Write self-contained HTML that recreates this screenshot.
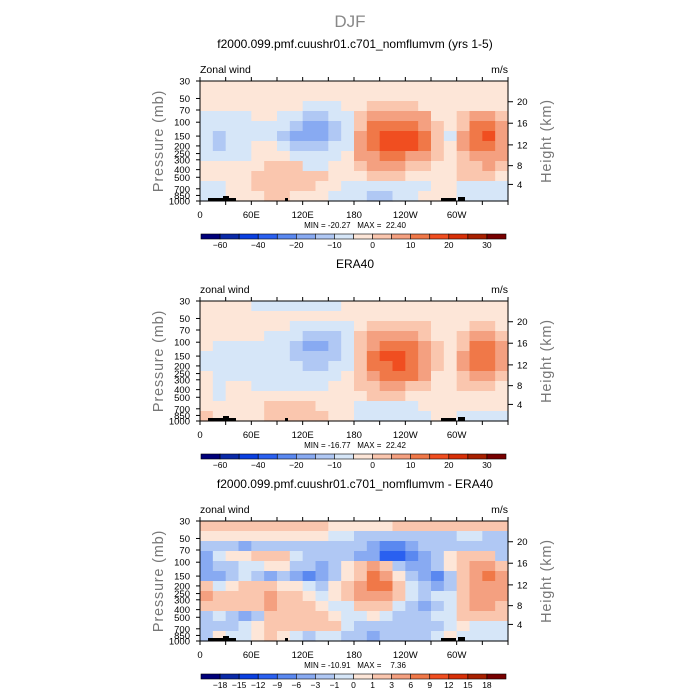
<!DOCTYPE html>
<html><head><meta charset="utf-8"><style>
body{margin:0;background:#fff;}
svg{display:block;font-family:"Liberation Sans",sans-serif;}
text{white-space:pre;}
</style></head><body>
<svg id="chart" width="700" height="700" viewBox="0 0 700 700">
<text x="350" y="27" text-anchor="middle" font-size="17" fill="#888">DJF</text>
</svg>
<script>
// ---- data ----
const lonLabels = ["0","60E","120E","180","120W","60W"];
const presLabels = [30,50,70,100,150,200,250,300,400,500,700,850,1000];
const heightLabels = [4,8,12,16,20];
const heightPres = [616,356,194,103,55];
const panelTitles = ["f2000.099.pmf.cuushr01.c701_nomflumvm (yrs 1-5)","ERA40","f2000.099.pmf.cuushr01.c701_nomflumvm - ERA40"];
const subTitles = ["Zonal wind","zonal wind","zonal wind"];
const minMax = ["MIN = -20.27   MAX =  22.40","MIN = -16.77   MAX =  22.42","MIN = -10.91   MAX =    7.36"];
const levelsAbs = [-60,-50,-40,-30,-20,-15,-10,-5,0,5,10,15,20,25,30];
const levelsDiff = [-18,-15,-12,-9,-6,-3,-1,0,1,3,6,9,12,15,18];
const labelsAbs = ["-60","","-40","","-20","","-10","","0","","10","","20","","30"];
const labelsDiff = ["-18","-15","-12","-9","-6","-3","-1","0","1","3","6","9","12","15","18"];
const colors = ["#00007a","#0a2aa8","#0a40e0","#2a60f0","#5a88f0","#88aaf2","#b0c8f4","#d6e6f8","#fde6d8","#fac6ae","#f4a080","#f07848","#f04e20","#d83008","#a82000","#780000"];
const grid1 = [
[-2,-2,-2,-2,-2,-2,-2,-2,-2,-2,-2,-2,-2,-2,-2,-2,-2,-2,-2,-2,-2,-2,-2,-2],
[-2,-2,-2,-2,-2,-2,-2,-2,-2,-2,-2,-2,-2,-2,-2,-2,-2,-2,-2,-2,-2,-2,-2,-2],
[-2,-2,-2,-2,-2,-2,-2,-2,-7,-7,-7,-2,-2,2,2,2,2,-2,-2,-2,-2,-2,-2,-2],
[-7,-7,-7,-7,-2,-2,-7,-7,-12,-12,-7,-7,2,7,7,7,7,7,-2,-2,2,7,7,2],
[-7,-7,-7,-7,-7,-7,-7,-12,-17,-17,-12,-7,2,12,12,12,12,7,2,-2,2,12,12,7],
[-7,-12,-7,-7,-7,-7,-12,-17,-20,-17,-12,-7,7,12,17,17,17,12,2,-7,7,12,17,7],
[-7,-12,-7,-7,-2,-2,-7,-12,-12,-12,-7,-7,7,12,17,17,17,12,2,-2,7,12,12,7],
[-7,-7,-7,-7,-2,-2,-2,-7,-7,-7,-7,-2,7,7,12,12,7,7,2,-2,2,7,7,7],
[-2,-2,-2,-2,-2,2,2,2,-7,-7,-2,-2,2,7,7,7,2,2,-2,-2,2,2,7,2],
[-2,-2,-2,-2,2,2,2,2,2,2,-2,-2,-2,2,2,2,-2,-2,-2,-2,2,2,2,-2],
[-7,-7,-2,-2,2,2,2,2,2,-2,-2,-7,-7,-7,-7,-7,-7,-7,-2,-2,-7,-7,-7,-7],
[-7,-7,-2,-2,-2,2,2,-2,-2,-2,-7,-7,-7,-12,-12,-7,-7,-2,-2,-2,-7,-7,-7,-7]];
const grid2 = [
[-2,-2,-2,-2,-7,-7,-7,-7,-7,-7,-7,-2,-2,-2,-2,-2,-2,-2,-2,-2,-2,-2,-2,-2],
[-2,-2,-2,-2,-2,-2,-2,-2,-2,-2,-2,-2,-2,-2,-2,-2,-2,-2,-2,-2,-2,-2,-2,-2],
[-2,-2,-2,-2,-2,-2,-2,-7,-7,-7,-7,-7,-2,2,2,2,2,2,-2,-2,-2,2,2,-2],
[-2,-2,-2,-2,-2,-7,-7,-7,-12,-12,-12,-7,2,7,7,7,7,2,-2,-2,2,7,7,2],
[-2,-7,-7,-7,-7,-7,-7,-12,-17,-17,-12,-7,2,7,12,12,12,7,2,-2,2,12,12,7],
[-7,-7,-7,-7,-7,-7,-7,-12,-12,-12,-12,-7,2,12,17,17,12,7,2,-2,7,12,12,7],
[-7,-7,-7,-7,-7,-7,-7,-7,-12,-12,-7,-7,2,12,12,17,12,7,2,-2,7,12,12,7],
[-2,-7,-7,-7,-7,-7,-7,-7,-7,-7,-7,-2,2,7,12,12,12,7,-2,-2,2,7,7,2],
[-2,-7,-2,-2,-7,-7,-7,-7,-7,-7,-2,-2,2,2,7,7,2,2,-2,-2,2,2,2,-2],
[-2,-7,-2,-2,-2,-2,-2,-2,-2,-2,-2,-2,-2,2,2,2,-2,-2,-2,-2,-2,-2,-2,-2],
[-2,-2,-2,-2,-2,2,2,2,2,-2,-2,-2,-7,-7,-7,-7,-7,-2,-2,-2,-2,-2,-2,-2],
[2,-2,-2,-2,-2,2,2,2,2,2,-2,-2,-7,-7,-7,-7,-7,-7,-2,-2,-7,-7,-7,-7]];
const grid3 = [
[2,2,2,2,2,2,2,2,2,2,0.5,0.5,0.5,0.5,0.5,2,2,2,2,2,2,2,2,2],
[0.5,0.5,0.5,0.5,0.5,0.5,0.5,0.5,0.5,0.5,-0.5,-0.5,-2,-2,-2,-2,-2,-2,-2,-2,-0.5,-0.5,-2,-2],
[-2,-2,-2,-4,-2,-2,-2,-2,-2,-2,-2,-2,-2,-4,-7,-7,-4,-2,-2,-2,-2,-2,-2,-2],
[-4,-0.5,0.5,0.5,2,2,2,-0.5,-2,-2,-2,-2,-4,-4,-10,-10,-7,-4,-2,0.5,2,2,2,-2],
[-4,-2,-2,-0.5,-0.5,0.5,0.5,-2,-2,-4,-2,0.5,2,4,2,-2,-4,-4,-2,0.5,2,4,4,2],
[-4,-4,-2,-0.5,-2,-4,-2,-4,-7,-4,-2,0.5,2,7,4,0.5,-2,-4,-7,-2,2,4,7,4],
[2,-0.5,0.5,2,2,2,0.5,0.5,-0.5,-2,0.5,2,4,7,7,2,-0.5,-2,-4,-2,2,4,4,4],
[4,2,2,2,2,4,2,2,0.5,-0.5,0.5,2,4,4,4,2,-0.5,-2,-0.5,-0.5,2,4,4,4],
[2,2,2,2,2,4,2,2,2,0.5,-0.5,-0.5,2,2,2,-0.5,-2,-4,-2,-0.5,2,4,4,2],
[-2,-0.5,-2,-4,-2,2,2,2,2,2,0.5,-0.5,-0.5,0.5,-0.5,-2,-2,-2,-0.5,-0.5,2,2,2,2],
[-2,-2,-2,-0.5,0.5,2,2,2,2,2,2,-0.5,-2,-2,-2,-2,-2,-2,-2,-0.5,0.5,-0.5,-0.5,-0.5],
[-2,0.5,-0.5,-0.5,0.5,2,0.5,-0.5,-2,-0.5,-0.5,-2,-2,-4,-2,-2,-2,-2,-0.5,0.5,-0.5,-0.5,-0.5,-0.5]];
const grids = [grid1,grid2,grid3];
const panelLevels = [levelsAbs,levelsAbs,levelsDiff];
const panelLabels = [labelsAbs,labelsAbs,labelsDiff];

// ---- drawing ----
const NS="http://www.w3.org/2000/svg";
const svg=document.getElementById('chart');
const X0=200,X1=508,PH=120;
function mk(tag,attrs,parent){const e=document.createElementNS(NS,tag);for(const k in attrs)e.setAttribute(k,attrs[k]);(parent||svg).appendChild(e);return e;}
function xLon(l){return X0+(X1-X0)*l/360;}
function colorFor(v,lv){let i=0;while(i<lv.length&&v>=lv[i])i++;return colors[i];}
for(let p=0;p<3;p++){
  const top=81+220*p;
  const yP=pr=>top+PH*Math.log(pr/30)/Math.log(1000/30);
  const g=mk('g',{});
  
  
  const t=mk('text',{x:355,y:top-33,'text-anchor':'middle','font-size':12,fill:'#000'},g);
  t.textContent=panelTitles[p];
  
  
  const st=mk('text',{x:200,y:top-8,'font-size':10.5,fill:'#000'},g);st.textContent=subTitles[p];
  
  
  const un=mk('text',{x:508,y:top-8,'text-anchor':'end','font-size':10.5,fill:'#000'},g);un.textContent='m/s';
  
  
  const grid=grids[p],rows=grid.length,cols=grid[0].length;
  const cw=(X1-X0)/cols,chh=PH/rows;
  for(let r=0;r<rows;r++)for(let c=0;c<cols;c++){
    const cell=mk('rect',{x:(X0+c*cw).toFixed(2),y:(top+r*chh).toFixed(2),width:(cw+0.6).toFixed(2),height:(chh+0.6).toFixed(2),fill:colorFor(grid[r][c],panelLevels[p])},g);
    
    
  }
  [[8,28,3],[23,6,5],[85,3,3],[241,15,3],[258,7,4]].forEach(b=>{const e=mk('rect',{x:X0+b[0],y:top+PH-b[2],width:b[1],height:b[2],fill:'#000'},g);
    
    });
  const fr=mk('rect',{x:X0,y:top,width:X1-X0,height:PH,fill:'none',stroke:'#000','stroke-width':1},g);
  
  
  for(let k=0;k<=12;k++){const x=xLon(30*k);
    mk('line',{x1:x,x2:x,y1:top,y2:top-4,stroke:'#000'},g);
    mk('line',{x1:x,x2:x,y1:top+PH,y2:top+PH+4,stroke:'#000'},g);}
  lonLabels.forEach((l,i)=>{const e=mk('text',{x:xLon(60*i),y:top+PH+17,'text-anchor':'middle','font-size':9.5,fill:'#000'},g);e.textContent=l;
    
    });
  presLabels.forEach(pr=>{const y=yP(pr);mk('line',{x1:X0,x2:X0-4,y1:y,y2:y,stroke:'#000'},g);
    const e=mk('text',{x:190,y:y+3.5,'text-anchor':'end','font-size':9.5,fill:'#000'},g);e.textContent=pr;
    
    });
  heightLabels.forEach((h,i)=>{const y=yP(heightPres[i]);mk('line',{x1:X1,x2:X1+5,y1:y,y2:y,stroke:'#000'},g);
    const e=mk('text',{x:517,y:y+3.5,'font-size':9.5,fill:'#000'},g);e.textContent=h;
    
    });
  const yl=mk('text',{transform:`translate(163,${top+60}) rotate(-90)`,'text-anchor':'middle','font-size':14.5,fill:'#777','letter-spacing':'0.8'},g);yl.textContent='Pressure (mb)';
  
  
  const yr=mk('text',{transform:`translate(551,${top+60}) rotate(-90)`,'text-anchor':'middle','font-size':14.5,fill:'#777','letter-spacing':'0.8'},g);yr.textContent='Height (km)';
  
  
  const mm=mk('text',{x:355,y:top+PH+27,'text-anchor':'middle','font-size':8,fill:'#000'},g);mm.textContent=minMax[p];
  
  
  const cy=top+153,bw=(506-201)/16;
  for(let i=0;i<16;i++){const e=mk('rect',{x:201+i*bw,y:cy,width:bw,height:5,fill:colors[i],stroke:'#000','stroke-width':0.6},g);
    
    }
  panelLabels[p].forEach((l,i)=>{if(!l)return;const e=mk('text',{x:201+(i+1)*bw,y:cy+14,'text-anchor':'middle','font-size':8.5,fill:'#000'},g);e.textContent=l.replace('-','\u2212');
    
    });
}
</script>
</body></html>
